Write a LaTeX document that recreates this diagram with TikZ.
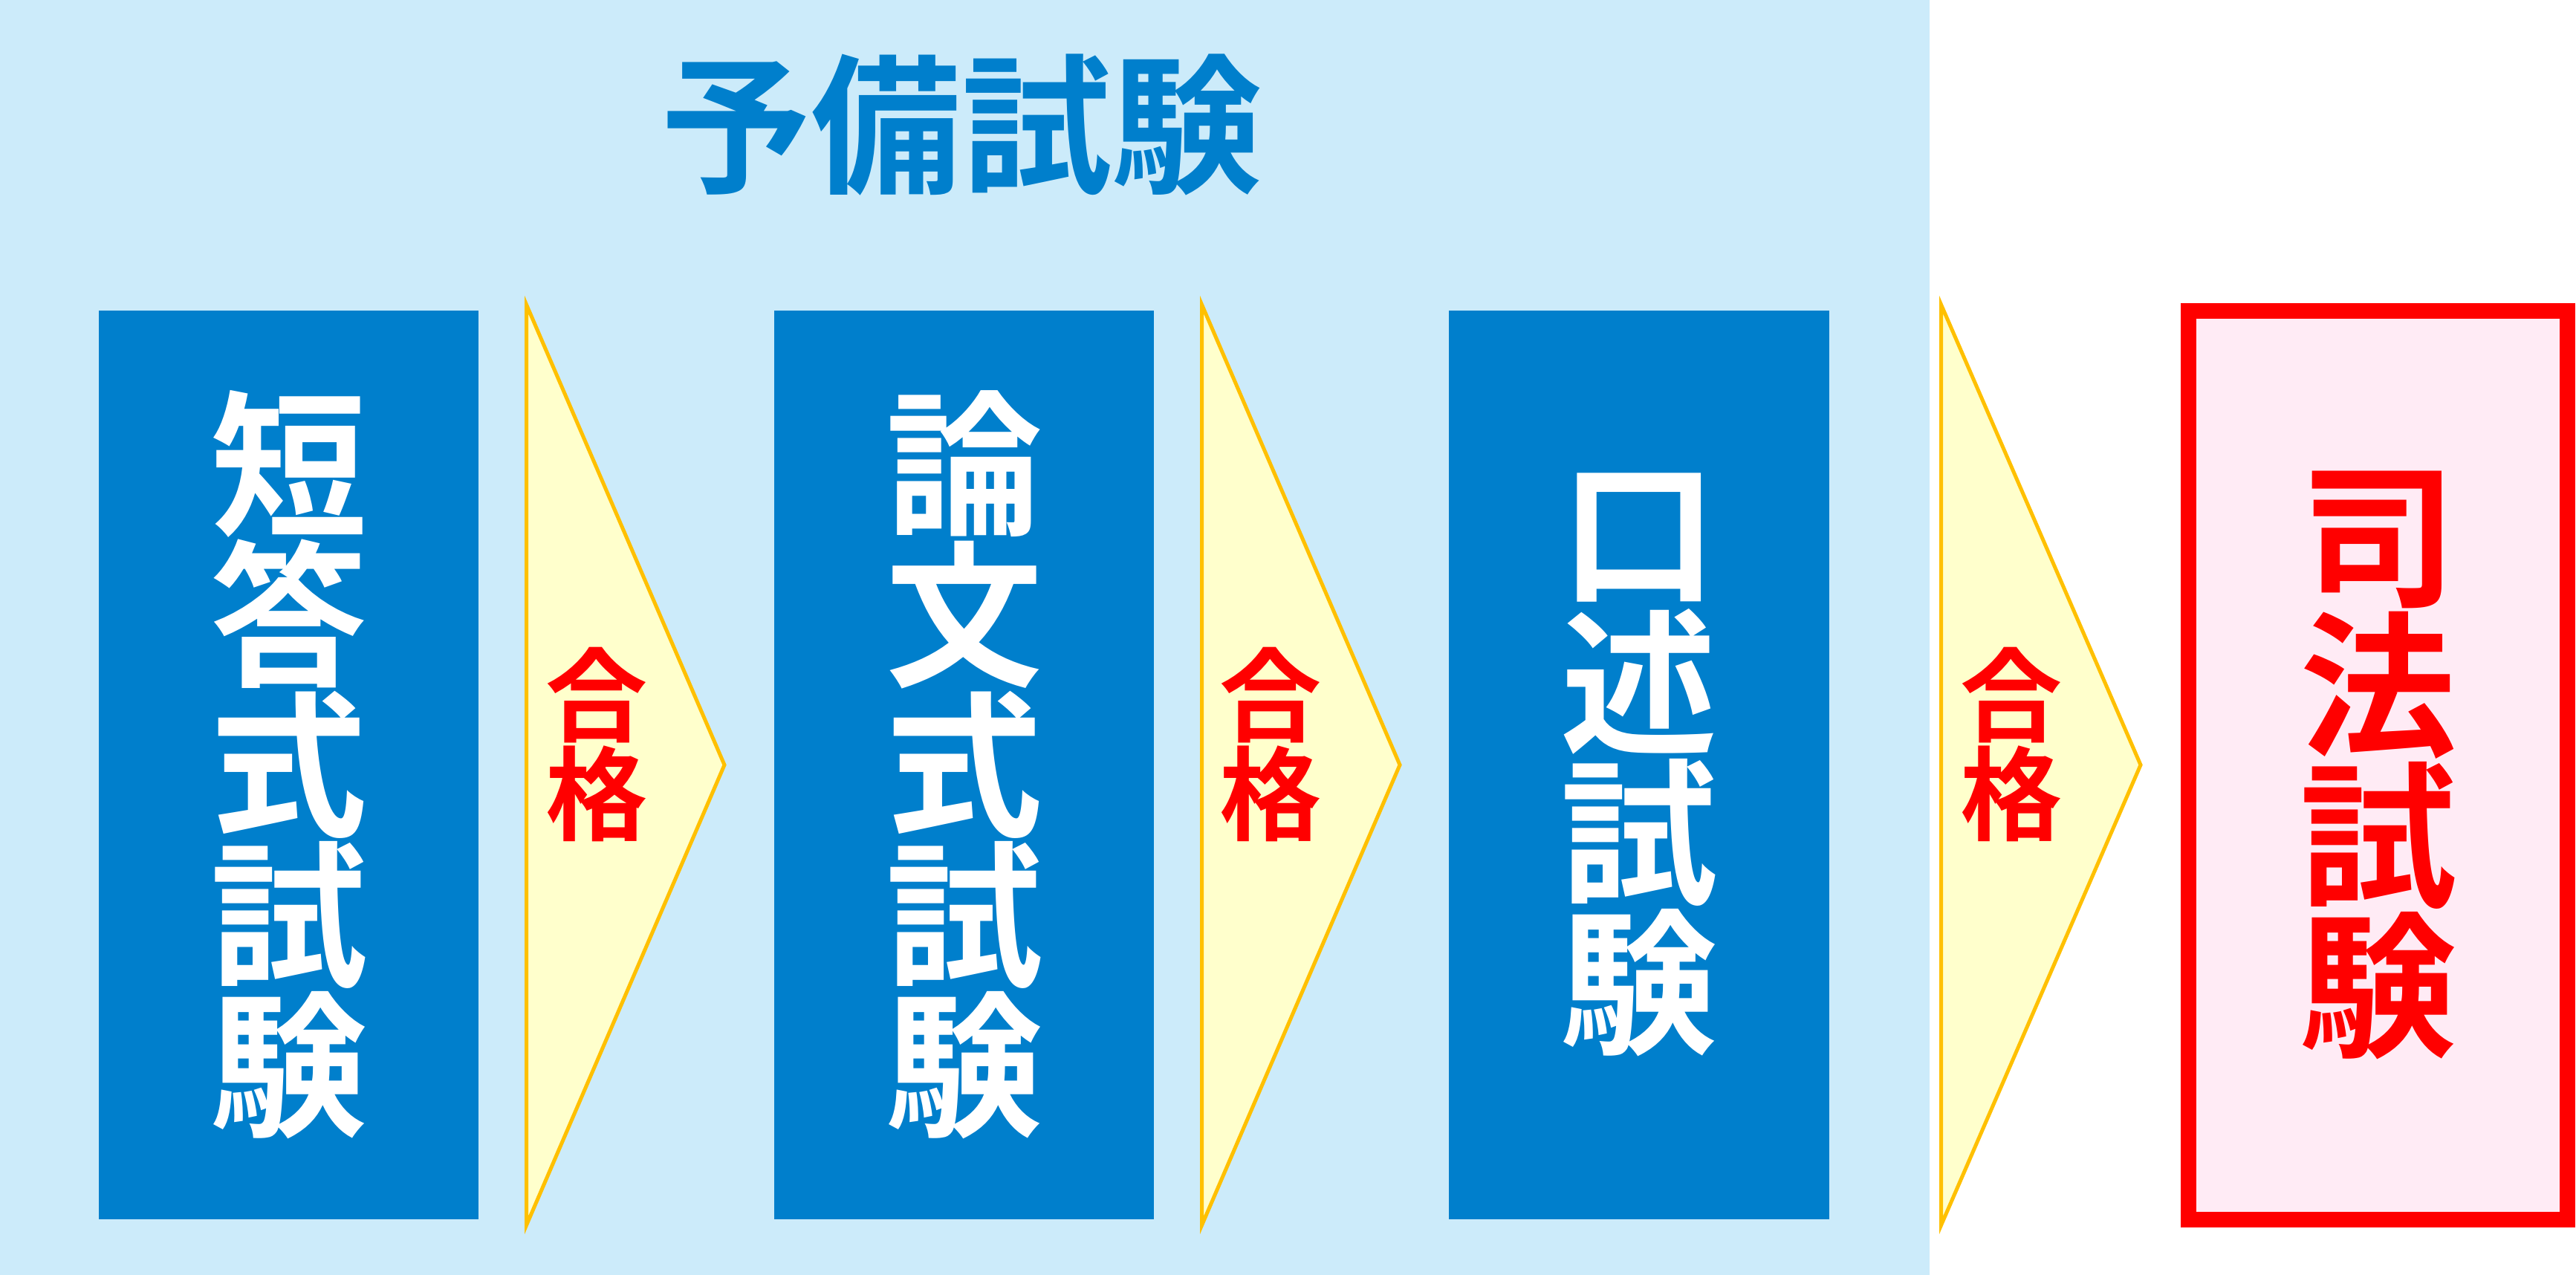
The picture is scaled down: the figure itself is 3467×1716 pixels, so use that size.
\documentclass[tikz,border=0pt]{standalone}
\usepackage{fontspec}
\newfontfamily\jp[BoldFont={Noto Sans CJK JP Bold}]{Noto Sans CJK JP}
\definecolor{bgblue}{HTML}{CCEBFA}
\definecolor{boxblue}{HTML}{007FCC}
\definecolor{triyellow}{HTML}{FFFFCC}
\definecolor{triorange}{HTML}{FFC000}
\definecolor{pinkfill}{HTML}{FFEBF5}
\definecolor{redc}{HTML}{FF0000}
\tikzset{
  exambox/.style={fill=boxblue, draw=none, minimum width=5.11cm, minimum height=12.23cm, inner sep=0pt,
    text=white, align=center, font=\jp\bfseries\fontsize{60}{57.5}\selectfont},
  finalbox/.style={fill=pinkfill, draw=redc, line width=0.21cm, minimum width=5.10cm, minimum height=12.23cm, inner sep=0pt,
    text=redc, align=center, font=\jp\bfseries\fontsize{60}{57.5}\selectfont},
  passarrow/.style={fill=triyellow, draw=triorange, line width=0.05cm, line join=miter},
  passlabel/.style={text=redc, align=center, inner sep=0pt, font=\jp\bfseries\fontsize{39}{36}\selectfont},
  titletext/.style={text=boxblue, inner sep=0pt, font=\jp\bfseries\fontsize{57.5}{60}\selectfont}
}
\begin{document}
\begin{tikzpicture}[x=0.01cm,y=-0.01cm]
\useasboundingbox (0,0) rectangle (3467,1716);
\fill[white] (0,0) rectangle (3467,1716);
\fill[bgblue] (0,0) rectangle (2597,1716);
\node[titletext] (title) at (1294,168) {予備試験};
\node[exambox] (b1) at (388.5,1029.5) {短\\答\\式\\試\\験};
\node[exambox] (b2) at (1297.5,1029.5) {論\\文\\式\\試\\験};
\node[exambox] (b3) at (2206,1029.5) {口\\述\\試\\験};
\node[finalbox] (b4) at (3200.5,1030) {司\\法\\試\\験};
\draw[passarrow] (708.5,410) -- (975,1029.5) -- (708.5,1649) -- cycle;
\draw[passarrow] (1617.5,410) -- (1884,1029.5) -- (1617.5,1649) -- cycle;
\draw[passarrow] (2612.5,410) -- (2881,1029.5) -- (2612.5,1649) -- cycle;
\node[passlabel] (p1) at (803,1002) {合\\格};
\node[passlabel] (p2) at (1710,1002) {合\\格};
\node[passlabel] (p3) at (2707,1002) {合\\格};
\end{tikzpicture}
\end{document}
